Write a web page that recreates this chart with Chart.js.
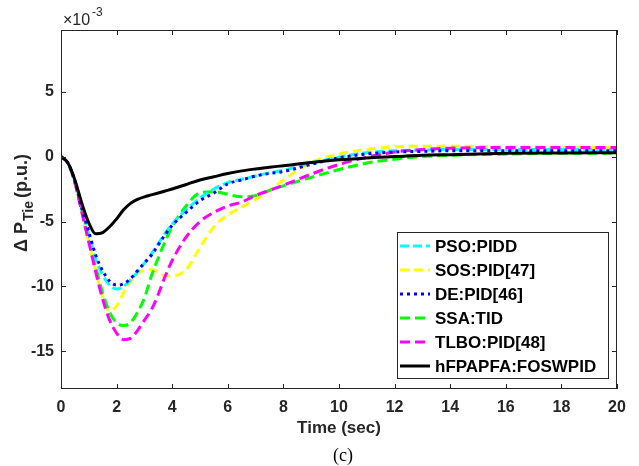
<!DOCTYPE html>
<html lang="en">
<head>
<meta charset="UTF-8">
<title>Delta P Tie</title>
<style>
  html, body { margin: 0; padding: 0; background: #fff; }
  #wrap { width: 639px; height: 466px; }
</style>
</head>
<body>
<div id="wrap"><canvas id="myChart" width="639" height="466"></canvas></div>

<script src="https://cdn.jsdelivr.net/npm/chart.js"></script>
<script>
// time axis (sec)
const v_time = [0, 0.25, 0.5, 0.75, 1, 1.25, 1.5, 1.75, 2, 2.25, 2.5, 2.75, 3, 3.25, 3.5, 3.75, 4, 4.5, 5, 5.5, 6, 6.5, 7, 7.5, 8, 9, 10, 11, 12, 13, 14, 16, 18, 20];

// series values, in units of 1e-3 p.u.
const v_pso  = [0, -0.5, -1.9, -4.0, -6.0, -7.9, -9.1, -9.9, -10.2, -10.0, -9.5, -8.9, -8.2, -7.5, -6.7, -5.9, -5.2, -4.1, -3.2, -2.5, -2.0, -1.75, -1.5, -1.25, -1.05, -0.5, -0.05, 0.3, 0.45, 0.5, 0.55, 0.55, 0.55, 0.55];
const v_sos  = [0, -0.5, -2.0, -4.3, -6.6, -8.8, -10.8, -11.9, -11.5, -10.5, -9.6, -9.0, -8.75, -8.7, -8.9, -9.2, -9.2, -8.7, -7.0, -5.4, -4.5, -3.9, -3.3, -2.6, -1.8, -0.45, 0.2, 0.55, 0.75, 0.8, 0.8, 0.75, 0.72, 0.7];
const v_de   = [0, -0.5, -1.9, -4.0, -5.8, -7.6, -8.8, -9.6, -9.9, -9.8, -9.4, -8.8, -8.2, -7.6, -6.8, -6.0, -5.3, -4.3, -3.4, -2.8, -2.1, -1.8, -1.5, -1.3, -1.15, -0.6, -0.1, 0.2, 0.35, 0.4, 0.45, 0.45, 0.45, 0.45];
const v_ssa  = [0, -0.5, -2.0, -4.2, -6.4, -8.5, -10.5, -12.0, -12.8, -13.0, -12.8, -12.0, -10.9, -9.2, -7.8, -6.5, -5.4, -3.8, -2.8, -2.7, -2.9, -3.1, -3.0, -2.6, -2.25, -1.6, -1.0, -0.5, -0.2, 0, 0.1, 0.2, 0.25, 0.25];
const v_tlbo = [0, -0.5, -2.0, -4.3, -6.6, -8.9, -11.0, -12.6, -13.6, -14.1, -14.0, -13.4, -12.6, -11.8, -10.6, -9.2, -8.0, -6.2, -5.0, -4.3, -3.8, -3.5, -3.0, -2.6, -2.2, -1.35, -0.6, -0.05, 0.35, 0.55, 0.65, 0.7, 0.7, 0.7];
const v_hfpa = [0, -0.5, -1.8, -3.6, -5.1, -5.95, -5.85, -5.4, -4.8, -4.1, -3.6, -3.3, -3.1, -2.95, -2.8, -2.65, -2.5, -2.15, -1.8, -1.55, -1.3, -1.1, -0.95, -0.82, -0.7, -0.45, -0.25, -0.1, 0.0, 0.1, 0.15, 0.25, 0.28, 0.3];

const v_names = ["PSO:PIDD", "SOS:PID[47]", "DE:PID[46]", "SSA:TID", "TLBO:PID[48]", "hFPAPFA:FOSWPID"];
const v_xTicks = [0, 2, 4, 6, 8, 10, 12, 14, 16, 18, 20];
const v_yTicks = [-15, -10, -5, 0, 5];

const v_series = [v_pso, v_sos, v_de, v_ssa, v_tlbo, v_hfpa];
const v_colors = ["#00ffff", "#ffff00", "#0000ff", "#00ff00", "#ff00ff", "#000000"];
const v_dashes = [[9, 4], [9, 5], [3, 4], [10, 5], [10, 5], []];
const v_order = [3, 5, 1, 4, 2, 0];

const AXIS_COL = "#262626";
const FONT = "'Liberation Sans', Arial, sans-serif";

let v_datasets = [];
for (let i = 0; i < v_series.length; i++) {
    let v_pts = [];
    for (let k = 0; k < v_time.length; k++) {
        v_pts.push({ x: v_time[k], y: v_series[i][k] });
    }
    v_datasets.push({
        label: v_names[i],
        data: v_pts,
        borderColor: v_colors[i],
        backgroundColor: v_colors[i],
        borderWidth: 3,
        borderDash: v_dashes[i],
        pointRadius: 0,
        cubicInterpolationMode: "monotone",
        fill: false,
        order: v_order[i]
    });
}

// box, inward ticks, legend and titles
const boxPlugin = {
    id: "boxPlugin",
    afterDatasetsDraw(chart) {
        const ctx = chart.ctx;
        const a = chart.chartArea;
        const xs = chart.scales.x;
        const ys = chart.scales.y;
        ctx.save();

        // axes box
        ctx.strokeStyle = AXIS_COL;
        ctx.lineWidth = 1;
        ctx.strokeRect(a.left + 0.5, a.top + 0.5, a.right - a.left - 1, a.bottom - a.top - 1);

        // inward ticks
        const tl = 5;
        ctx.beginPath();
        v_xTicks.forEach(v => {
            const px = Math.round(xs.getPixelForValue(v)) + 0.5;
            ctx.moveTo(px, a.bottom); ctx.lineTo(px, a.bottom - tl);
            ctx.moveTo(px, a.top); ctx.lineTo(px, a.top + tl);
        });
        v_yTicks.forEach(v => {
            const py = Math.round(ys.getPixelForValue(v)) + 0.5;
            ctx.moveTo(a.left, py); ctx.lineTo(a.left + tl, py);
            ctx.moveTo(a.right, py); ctx.lineTo(a.right - tl, py);
        });
        ctx.stroke();

        // legend
        const rowH = 24;
        const lw = 211, lh = 146;
        const lx = a.right - 9 - lw;
        const ly = a.bottom - 11 - lh;
        ctx.fillStyle = "#fff";
        ctx.fillRect(lx, ly, lw, lh);
        ctx.strokeStyle = AXIS_COL;
        ctx.strokeRect(lx + 0.5, ly + 0.5, lw, lh);
        ctx.font = "bold 17px " + FONT;
        ctx.textBaseline = "middle";
        ctx.textAlign = "left";
        chart.data.datasets.forEach((ds, i) => {
            const cy = ly + 14 + i * rowH;
            ctx.beginPath();
            ctx.strokeStyle = ds.borderColor;
            ctx.lineWidth = 3;
            ctx.setLineDash(ds.borderDash);
            ctx.moveTo(lx + 3, cy);
            ctx.lineTo(lx + 33, cy);
            ctx.stroke();
            ctx.setLineDash([]);
            ctx.fillStyle = "#000";
            ctx.fillText(ds.label, lx + 38, cy + 1);
        });

        // exponent label
        ctx.fillStyle = AXIS_COL;
        ctx.font = "16px " + FONT;
        ctx.textBaseline = "alphabetic";
        ctx.fillText("\u00d710", a.left + 2, 25);
        ctx.font = "12px " + FONT;
        ctx.fillText("-3", a.left + 31, 16);

        // y axis title
        ctx.save();
        ctx.translate(27, 203);
        ctx.rotate(-Math.PI / 2);
        ctx.fillStyle = AXIS_COL;
        ctx.textAlign = "left";
        ctx.textBaseline = "alphabetic";
        ctx.font = "bold 18px " + FONT;
        const t1 = "\u0394 P";
        const w1 = ctx.measureText(t1).width;
        const w3 = ctx.measureText("(p.u.)").width;
        ctx.font = "bold 14px " + FONT;
        const w2 = ctx.measureText("Tie").width;
        const total = w1 + w2 + w3 + 4;
        let cx = -total / 2;
        ctx.font = "bold 18px " + FONT;
        ctx.fillText(t1, cx, 0);
        cx += w1 + 1;
        ctx.font = "bold 14px " + FONT;
        ctx.fillText("Tie", cx, 6);
        cx += w2 + 3;
        ctx.font = "bold 18px " + FONT;
        ctx.fillText("(p.u.)", cx, 0);
        ctx.restore();

        // x axis title
        ctx.textAlign = "center";
        ctx.textBaseline = "middle";
        ctx.font = "bold 17px " + FONT;
        ctx.fillText("Time (sec)", (a.left + a.right) / 2, 428);

        // panel caption
        ctx.fillStyle = "#000";
        ctx.font = "18px 'Liberation Serif', 'Times New Roman', serif";
        ctx.fillText("(c)", 343, 456);

        ctx.restore();
    }
};

const ctx = document.getElementById("myChart");

new Chart(ctx, {
    type: "line",
    data: { datasets: v_datasets },
    options: {
        responsive: false,
        animation: false,
        events: [],
        layout: { padding: { top: 30, right: 22, left: 0, bottom: 0 } },
        plugins: {
            legend: { display: false },
            tooltip: { enabled: false }
        },
        scales: {
            x: {
                type: "linear",
                min: 0,
                max: 20,
                afterBuildTicks: (s) => { s.ticks = v_xTicks.map(v => ({ value: v })); },
                afterFit: (s) => { s.height = 77; },
                grid: { display: false, drawTicks: false },
                border: { display: false },
                ticks: {
                    padding: 9,
                    color: AXIS_COL,
                    font: { family: FONT, size: 16, weight: "bold" },
                    maxRotation: 0
                }
            },
            y: {
                type: "linear",
                min: -17.9,
                max: 9.75,
                afterBuildTicks: (s) => { s.ticks = v_yTicks.map(v => ({ value: v })); },
                afterFit: (s) => { s.width = 61; },
                grid: { display: false, drawTicks: false },
                border: { display: false },
                ticks: {
                    padding: 7,
                    color: AXIS_COL,
                    font: { family: FONT, size: 16, weight: "bold" }
                }
            }
        }
    },
    plugins: [boxPlugin]
});
</script>
</body>
</html>
